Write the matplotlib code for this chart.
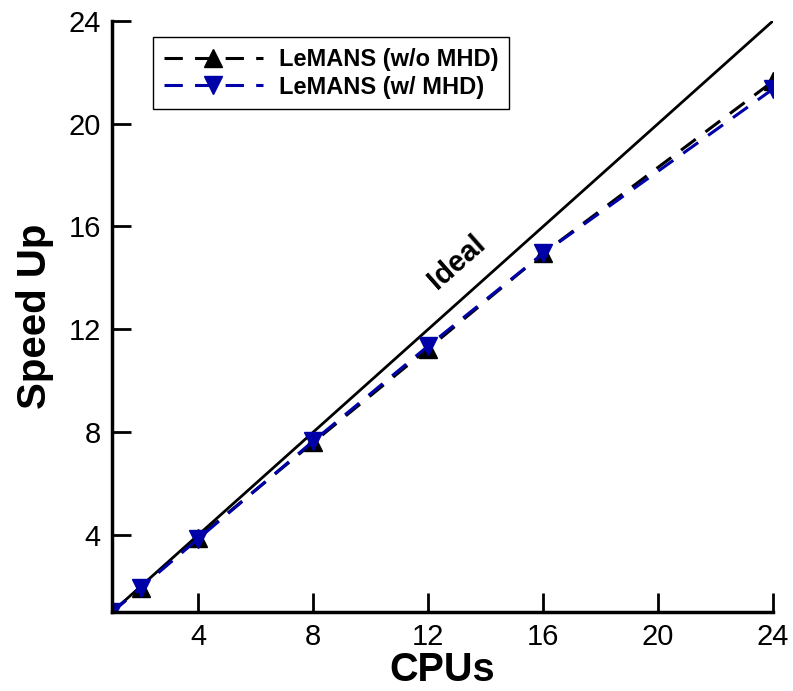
import matplotlib
matplotlib.use("Agg")
import matplotlib.pyplot as plt

plt.rcParams['font.family'] = ['Liberation Sans', 'DejaVu Sans']

cpus = [1, 2, 4, 8, 12, 16, 24]
speedup_no_mhd = [1.0, 1.95, 3.9, 7.6, 11.25, 14.95, 21.65]
speedup_mhd = [1.0, 1.95, 3.85, 7.65, 11.35, 14.95, 21.35]
ideal = [1, 24]
ticks = [4, 8, 12, 16, 20, 24]

fig = plt.figure(figsize=(7.93, 6.91), dpi=100)
ax = fig.add_axes([0.141, 0.114, 0.834, 0.856])

ax.plot(ideal, ideal, color='black', lw=2)
ax.plot(cpus, speedup_no_mhd, color='black', lw=2.2, ls=(0, (6, 4)),
        marker='^', ms=13, label='LeMANS (w/o MHD)')
ax.plot(cpus, speedup_mhd, color='#0000a8', lw=2.2, ls=(0, (6, 4)),
        marker='v', ms=13, label='LeMANS (w/ MHD)')

ax.text(13.0, 14.6, 'Ideal', rotation=41.5, fontsize=21, fontweight='bold',
        ha='center', va='center')

ax.set_xlim(1, 24)
ax.set_ylim(1, 24)
ax.set_xticks(ticks)
ax.set_yticks(ticks)
ax.tick_params(direction='in', length=14, width=2, labelsize=21, pad=8)
for s in ['top', 'right']:
    ax.spines[s].set_visible(False)
for s in ['left', 'bottom']:
    ax.spines[s].set_linewidth(2.5)

ax.set_xlabel('CPUs', fontsize=28.5, fontweight='bold', labelpad=0)
ax.set_ylabel('Speed Up', fontsize=29, fontweight='bold', labelpad=10)

leg = ax.legend(loc='upper left', bbox_to_anchor=(0.193, 0.946),
                bbox_transform=fig.transFigure, fancybox=False,
                edgecolor='black', handlelength=4.2, borderaxespad=0,
                prop={'weight': 'bold', 'size': 17}, borderpad=0.45,
                labelspacing=0.2, handletextpad=0.7, framealpha=1)
leg.get_frame().set_linewidth(1)

fig.savefig('out.png', dpi=100)
